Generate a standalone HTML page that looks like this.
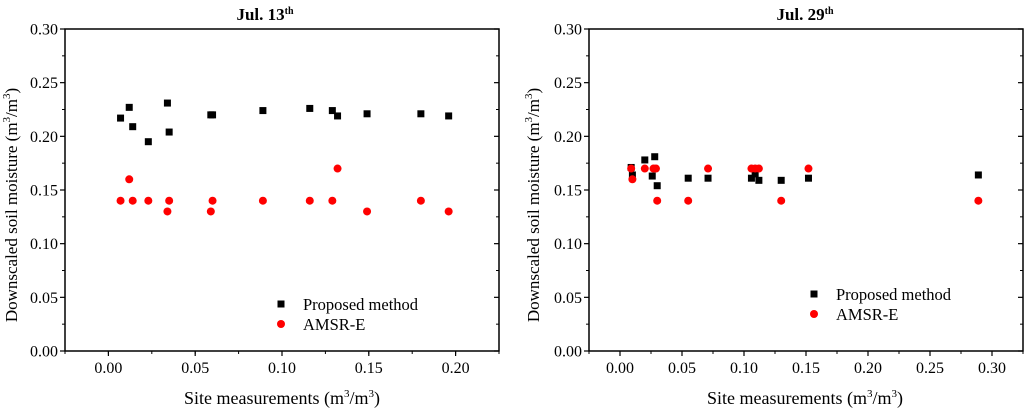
<!DOCTYPE html>
<html><head><meta charset="utf-8"><style>
body{margin:0;background:#fff;}
svg{display:block;font-family:"Liberation Serif",serif;}
</style></head><body>
<svg id="svg" width="1024" height="408"></svg>
<script>
// Panel 1 data (Jul. 13th)
const p1x = [0.007,0.012,0.014,0.023,0.034,0.035,0.059,0.060,0.089,0.116,0.129,0.132,0.149,0.180,0.196];
const p1Proposed = [0.217,0.227,0.209,0.195,0.231,0.204,0.220,0.220,0.224,0.226,0.224,0.219,0.221,0.221,0.219];
const p1Amsr = [0.14,0.16,0.14,0.14,0.13,0.14,0.13,0.14,0.14,0.14,0.14,0.17,0.13,0.14,0.13];
const p1XTicks = [0.00,0.05,0.10,0.15,0.20];
// Panel 2 data (Jul. 29th)
const p2x = [0.009,0.010,0.020,0.026,0.028,0.030,0.055,0.071,0.106,0.109,0.112,0.130,0.152,0.289];
const p2Proposed = [0.171,0.164,0.178,0.163,0.181,0.154,0.161,0.161,0.161,0.165,0.159,0.159,0.161,0.164];
const p2AmsrX = [0.009,0.010,0.020,0.027,0.029,0.030,0.055,0.071,0.106,0.109,0.112,0.130,0.152,0.289];
const p2Amsr = [0.17,0.16,0.17,0.17,0.17,0.14,0.14,0.17,0.17,0.17,0.17,0.14,0.17,0.14];
const p2XTicks = [0.00,0.05,0.10,0.15,0.20,0.25,0.30];
const yTicks = [0.00,0.05,0.10,0.15,0.20,0.25,0.30];

const NS="http://www.w3.org/2000/svg";
const svg=document.getElementById('svg');
function mk(tag,attrs,parent,text){const e=document.createElementNS(NS,tag);for(const k in attrs)e.setAttribute(k,attrs[k]);if(text!==undefined)e.textContent=text;(parent||svg).appendChild(e);return e;}

function panel(o){
  const g=mk('g',{});
  
  
  const sx=v=>o.x0+(v-o.xmin)/(o.xmax-o.xmin)*(o.x1-o.x0);
  const sy=v=>o.y1-(v-0)/(0.3)*(o.y1-o.y0);
  const fr=mk('rect',{x:o.x0,y:o.y0,width:o.x1-o.x0,height:o.y1-o.y0,fill:'none',stroke:'#000','stroke-width':1.5},g);
  
  
  for(let i=0;i<yTicks.length;i++){const v=yTicks[i];const y=sy(v);
    mk('line',{x1:o.x0-5,x2:o.x0,y1:y,y2:y,stroke:'#000','stroke-width':1.2},g);
    mk('line',{x1:o.x1-5,x2:o.x1,y1:y,y2:y,stroke:'#000','stroke-width':1.2},g);
    const t=mk('text',{x:o.x0-7,y:y+5.5,'text-anchor':'end','font-size':16},g,v.toFixed(2));
    
    
    if(i<yTicks.length-1){const ym=sy(v+0.025);
      mk('line',{x1:o.x0-3,x2:o.x0,y1:ym,y2:ym,stroke:'#000','stroke-width':1},g);
      mk('line',{x1:o.x1-3,x2:o.x1,y1:ym,y2:ym,stroke:'#000','stroke-width':1},g);}
  }
  for(const v of o.xticks){const x=sx(v);
    mk('line',{x1:x,x2:x,y1:o.y1,y2:o.y1+5,stroke:'#000','stroke-width':1.2},g);
    const t=mk('text',{x:x,y:o.y1+22,'text-anchor':'middle','font-size':16},g,v.toFixed(2));
    
    
  }
  for(let v=o.xmin;v<=o.xmax+1e-9;v+=0.025){const x=sx(v);
    mk('line',{x1:x,x2:x,y1:o.y1,y2:o.y1+3,stroke:'#000','stroke-width':1},g);}
  const tt=mk('text',{x:o.tx,y:20,'text-anchor':'middle','font-size':17,'font-weight':'bold'},g);
  
  
  tt.appendChild(document.createTextNode(o.title));
  mk('tspan',{dy:-6,'font-size':10},tt,'th');
  const yl=mk('text',{transform:`translate(${o.ylx},${205}) rotate(-90)`,'text-anchor':'middle','font-size':17},g);
  
  
  yl.appendChild(document.createTextNode('Downscaled soil moisture (m'));
  mk('tspan',{dy:-7,'font-size':11},yl,'3');
  mk('tspan',{dy:7},yl,'/m');
  mk('tspan',{dy:-7,'font-size':11},yl,'3');
  mk('tspan',{dy:7},yl,')');
  const xl=mk('text',{x:o.xlx,y:404,'text-anchor':'middle','font-size':18},g);
  
  
  xl.appendChild(document.createTextNode('Site measurements (m'));
  mk('tspan',{dy:-7,'font-size':11},xl,'3');
  mk('tspan',{dy:7},xl,'/m');
  mk('tspan',{dy:-7,'font-size':11},xl,'3');
  mk('tspan',{dy:7},xl,')');
  for(let i=0;i<o.bx.length;i++){
    const s=mk('rect',{x:sx(o.bx[i])-3.5,y:sy(o.by[i])-3.5,width:7,height:7,fill:'#000'},g);
    
    
  }
  for(let i=0;i<o.rx.length;i++){
    const c=mk('circle',{cx:sx(o.rx[i]),cy:sy(o.ry[i]),r:4,fill:'#f00'},g);
    
    
  }
  const l1=mk('rect',{x:o.lx-3.5,y:o.ly-3.5,width:7,height:7,fill:'#000'},g);
  
  
  const lt1=mk('text',{x:o.lx+22,y:o.ly+6,'font-size':16.5},g,'Proposed method');
  
  
  const l2=mk('circle',{cx:o.lx,cy:o.ly+20,r:4,fill:'#f00'},g);
  
  
  const lt2=mk('text',{x:o.lx+22,y:o.ly+26,'font-size':16.5},g,'AMSR-E');
  
  
}
panel({name:'panel-jul-13',x0:65,x1:499,y0:29,y1:351,xmin:-0.025,xmax:0.225,xticks:p1XTicks,
  bx:p1x,by:p1Proposed,rx:p1x,ry:p1Amsr,title:'Jul. 13',tx:265,ylx:17,xlx:282,lx:281,ly:304});
panel({name:'panel-jul-29',x0:589,x1:1023,y0:29,y1:351,xmin:-0.025,xmax:0.325,xticks:p2XTicks,
  bx:p2x,by:p2Proposed,rx:p2AmsrX,ry:p2Amsr,title:'Jul. 29',tx:805,ylx:539,xlx:805,lx:814,ly:294});
</script>
</body></html>
